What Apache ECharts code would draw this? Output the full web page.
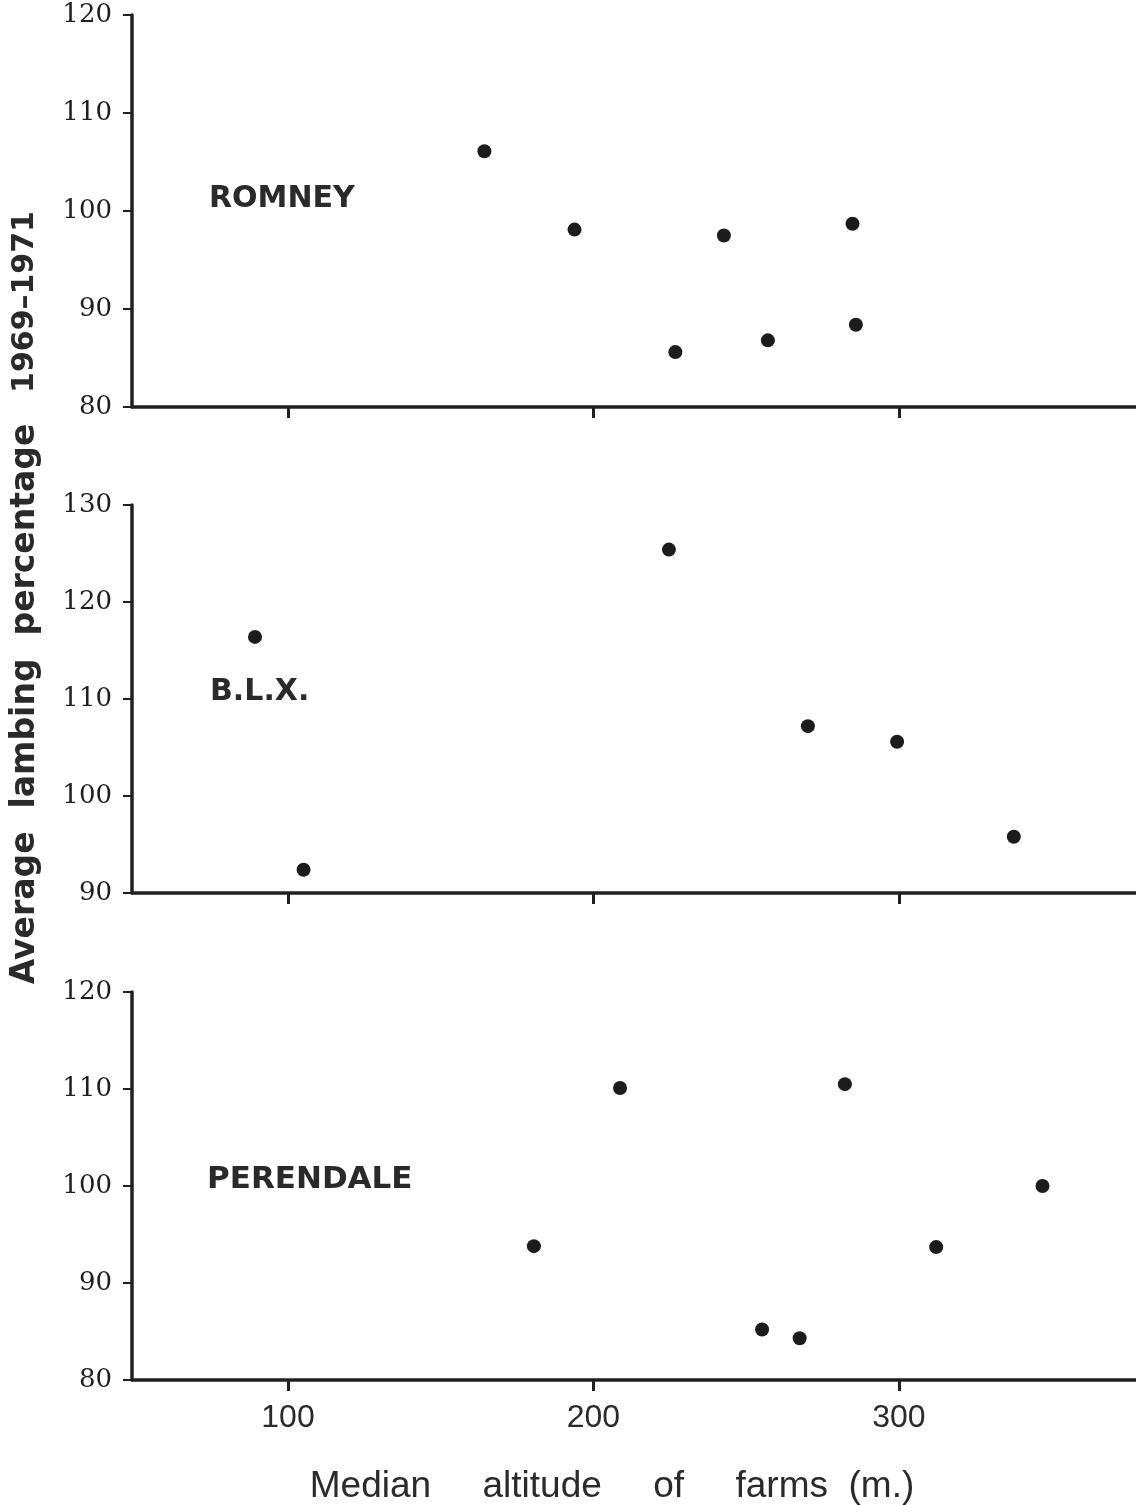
<!DOCTYPE html>
<html>
<head>
<meta charset="utf-8">
<title>Lambing percentage vs farm altitude</title>
<script src="https://cdn.jsdelivr.net/npm/echarts@6/dist/echarts.min.js"></script>
<style>
  html, body { margin: 0; padding: 0; background: #ffffff; }
  #chart { width: 1136px; height: 1505px; }
</style>
</head>
<body>
<div id="chart"></div>
<script>
// Median farm altitude (m) and average lambing percentage 1969-1971, by breed
const altitudeRomney = [164.3, 193.8, 242.7, 284.8, 226.8, 257.1, 285.9];
const lambingRomney = [106.1, 98.1, 97.5, 98.7, 85.6, 86.8, 88.4];

const altitudeBLX = [89.2, 105.1, 224.7, 270.2, 299.4, 337.6];
const lambingBLX = [116.4, 92.4, 125.4, 107.2, 105.6, 95.8];

const altitudePerendale = [180.5, 208.7, 282.3, 347.0, 312.2, 255.2, 267.5];
const lambingPerendale = [93.8, 110.1, 110.5, 100.0, 93.7, 85.2, 84.3];

const breedNames = ['ROMNEY', 'B.L.X.', 'PERENDALE'];
const altitudeTicks = [100, 200, 300];
const yRanges = [[80, 120], [90, 130], [80, 120]];

const ink = '#202020';
const chart = echarts.init(document.getElementById('chart'), null, { renderer: 'canvas' });

const panels = [
  { x: altitudeRomney, y: lambingRomney, top: 15, height: 392 },
  { x: altitudeBLX, y: lambingBLX, top: 505, height: 388 },
  { x: altitudePerendale, y: lambingPerendale, top: 992, height: 388 }
];

const zip = (xs, ys) => xs.map((v, i) => [v, ys[i]]);

const option = {
  backgroundColor: '#ffffff',
  animation: false,
  grid: panels.map(p => ({ left: 132, right: 0, top: p.top, height: p.height, containLabel: false })),
  xAxis: panels.map((p, i) => ({
    type: 'value',
    gridIndex: i,
    min: 48.94,
    max: 377.6,
    splitLine: { show: false },
    axisLine: { show: true, onZero: false, lineStyle: { color: ink, width: 3.5 } },
    axisTick: {
      show: true, inside: false, length: 11,
      customValues: altitudeTicks,
      lineStyle: { color: ink, width: 3 }
    },
    axisLabel: {
      show: i === 2,
      customValues: altitudeTicks,
      margin: 22,
      color: '#2a2a2a',
      fontFamily: '"Liberation Sans Narrow", "Liberation Sans", sans-serif',
      fontSize: 32
    }
  })),
  yAxis: panels.map((p, i) => ({
    type: 'value',
    gridIndex: i,
    min: yRanges[i][0],
    max: yRanges[i][1],
    interval: 10,
    splitLine: { show: false },
    axisLine: { show: true, onZero: false, lineStyle: { color: ink, width: 3.5 } },
    axisTick: { show: true, inside: false, length: 9, lineStyle: { color: ink, width: 2 } },
    axisLabel: {
      margin: 20,
      color: '#1e1e1e',
      fontFamily: '"DejaVu Serif", serif',
      fontSize: 26
    }
  })),
  series: panels.map((p, i) => ({
    name: breedNames[i],
    type: 'scatter',
    xAxisIndex: i,
    yAxisIndex: i,
    symbol: 'circle',
    symbolSize: 14,
    itemStyle: { color: '#1c1c1c', opacity: 1 },
    data: zip(p.x, p.y)
  })),
  graphic: [
    {
      type: 'text', x: 209, y: 199,
      style: { text: breedNames[0], fill: '#2a2a2a', font: 'bold 30px "DejaVu Sans", sans-serif', textVerticalAlign: 'middle' }
    },
    {
      type: 'text', x: 210, y: 692,
      style: { text: breedNames[1], fill: '#2a2a2a', font: 'bold 30px "DejaVu Sans", sans-serif', textVerticalAlign: 'middle' }
    },
    {
      type: 'text', x: 207, y: 1180,
      style: { text: breedNames[2], fill: '#2a2a2a', font: 'bold 31px "DejaVu Sans", sans-serif', textVerticalAlign: 'middle' }
    },
    {
      type: 'text', x: 25, y: 704, rotation: Math.PI / 2,
      style: { text: 'Average  lambing  percentage', fill: '#2a2a2a', font: 'bold 33px "DejaVu Sans", sans-serif', textAlign: 'center', textVerticalAlign: 'middle' }
    },
    {
      type: 'text', x: 25, y: 302, rotation: Math.PI / 2,
      style: { text: '1969–1971', fill: '#2a2a2a', font: 'bold 30px "DejaVu Sans", sans-serif', textAlign: 'center', textVerticalAlign: 'middle' }
    },
    {
      type: 'text', x: 612, y: 1487,
      style: { text: 'Median     altitude     of     farms  (m.)', fill: '#2a2a2a', font: '37px "Liberation Sans", sans-serif', textAlign: 'center', textVerticalAlign: 'middle' }
    }
  ]
};

chart.setOption(option);
</script>
</body>
</html>
